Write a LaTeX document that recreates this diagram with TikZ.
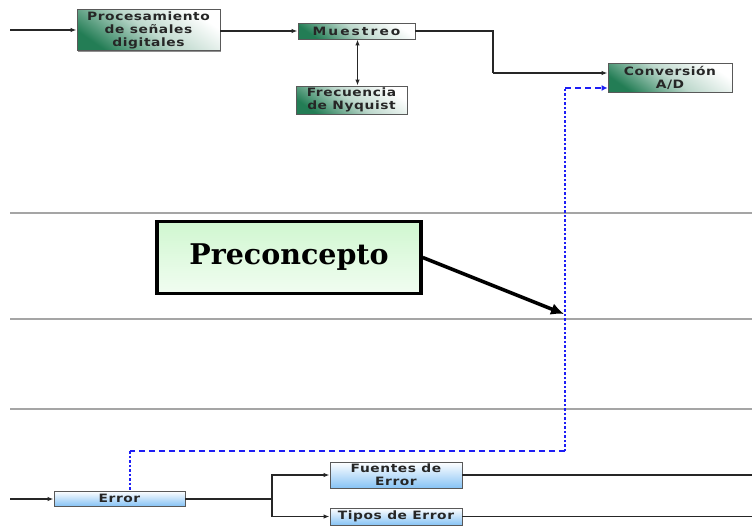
\documentclass[tikz,border=0pt]{standalone}
\usepackage{fontspec}
\newfontfamily\boxfont[FakeStretch=1.2, LetterSpace=5]{DejaVu Sans}
\newfontfamily\titlefont{DejaVu Serif}
\usetikzlibrary{arrows.meta,shadows}
\definecolor{boxgreen}{RGB}{35,125,85}
\definecolor{boxblue}{RGB}{135,195,245}
\definecolor{linkblue}{RGB}{30,30,245}
\definecolor{railgray}{RGB}{165,165,165}
\definecolor{conceptgreen}{RGB}{208,247,208}
\begin{document}
\begin{tikzpicture}[x=1pt,y=-1pt,
  tip/.style={-{Latex[length=6pt,width=4.5pt]}},
  flow/.style={draw=black!85, line width=1.2pt},
  rail/.style={draw=railgray, line width=2.8pt},
  boxbase/.style={draw=black!65, line width=0.9pt, inner sep=0pt, align=center,
    text=black!85, font=\boxfont\bfseries\fontsize{11.5}{13}\selectfont,
    drop shadow={shadow xshift=1.3pt, shadow yshift=-1.3pt, fill=black!55, opacity=0.8}},
  greenbox/.style={boxbase, top color=white, bottom color=boxgreen, middle color=boxgreen!30, shading angle=-35},
  bluebox/.style={boxbase, top color=white, bottom color=boxblue},
  conceptbox/.style={draw=black, line width=3.5pt, inner sep=0pt, top color=conceptgreen, bottom color=conceptgreen!30,
    font=\titlefont\bfseries\fontsize{28.5}{30}\selectfont},
  linkv/.style={draw=linkblue, line width=1.6pt, dash pattern=on 2.5pt off 2pt},
  linkh/.style={draw=linkblue, line width=1.6pt, dash pattern=on 6pt off 4pt},
]
\useasboundingbox (0,0) rectangle (752,525);

% horizontal rails
\draw[rail] (10,213) coordinate (r1a) -- (752,213) coordinate (r1b);
\draw[rail] (10,319) coordinate (r2a) -- (752,319) coordinate (r2b);
\draw[rail] (10,409) coordinate (r3a) -- (752,409) coordinate (r3b);

% upper chain
\node[greenbox, minimum width=143pt, minimum height=41pt] (proc) at (148.5,30) {Procesamiento\\de señales\\digitales};
\node[greenbox, minimum width=117pt, minimum height=16pt] (mues) at (356.5,31) {\addfontfeature{LetterSpace=18}Muestreo};
\node[greenbox, minimum width=111pt, minimum height=28pt] (nyq) at (351.5,100) {Frecuencia\\de Nyquist};
\node[greenbox, minimum width=124pt, minimum height=29pt] (conv) at (670,77.5) {Conversión\\A/D};

\coordinate (inproc) at (10,30);
\coordinate (bend) at (493,73);
\draw[flow, tip] (inproc) -- (proc.west |- inproc);
\draw[flow, tip] (proc.east |- mues) -- (mues.west);
\draw[flow] (mues.east) -| (bend);
\draw[flow, tip] (bend) -- (conv.west |- bend);
\draw[flow, {Latex[length=6pt,width=4.5pt]}-{Latex[length=6pt,width=4.5pt]}] (mues.south) ++(1,0) coordinate (mt) -- (mt |- nyq.north);

% concept label
\node[conceptbox, minimum width=264pt, minimum height=72pt] (pre) at (289,257.5) {Preconcepto};
\coordinate (preend) at (564,314);
\draw[line width=3.6pt, -{Latex[length=13pt,width=12pt]}] (pre.east) -- (preend);

% lower chain
\node[bluebox, minimum width=131pt, minimum height=15pt] (err) at (119.5,498.5) {Error};
\node[bluebox, minimum width=132pt, minimum height=26pt] (fue) at (396,475) {Fuentes de\\Error};
\node[bluebox, minimum width=132pt, minimum height=17pt] (tip) at (396,516.5) {Tipos de Error};

\coordinate (inerr) at (10,499);
\coordinate (split) at (272,499);
\draw[flow, tip] (inerr) -- (err.west |- inerr);
\draw[flow] (err.east |- split) -- (split);
\draw[flow, tip] (split) |- (fue.west);
\draw[flow, tip] (split) |- (tip.west);
\draw[flow] (fue.east) -- (752,475) coordinate (fueout);
\draw[flow] (tip.east) -- (752,516.5) coordinate (tipout);

% dashed link between Error and Conversión A/D
\coordinate (lk1) at (565,451);
\coordinate (lk2) at (565,88);
\coordinate (lk3) at (130,451);
\draw[linkv] (lk1) -- (lk2);
\draw[linkh, -{Latex[length=6pt,width=6pt]}] (lk2) -- (conv.west |- lk2);
\draw[linkh] (lk1) -- (lk3);
\draw[linkv] (lk3) -- (lk3 |- err.north);
\end{tikzpicture}
\end{document}
